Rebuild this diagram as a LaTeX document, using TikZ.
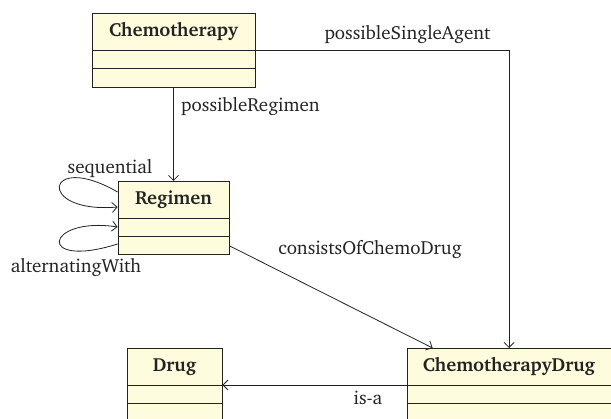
\documentclass[tikz,border=0pt]{standalone}
\usepackage[T1]{fontenc}
\usepackage{charter}
\usetikzlibrary{arrows.meta,calc}
\definecolor{classfill}{RGB}{255,251,221}
\definecolor{lineclr}{RGB}{34,34,34}
\tikzset{
  x=1pt, y=-1pt,
  every node/.style={font=\fontsize{19}{22}\selectfont, text=lineclr},
  classbox/.style={draw=lineclr, fill=classfill, line width=0.8pt, inner sep=0pt},
  classtitle/.style={font=\fontsize{19}{22}\selectfont\bfseries},
  divider/.style={draw=lineclr, line width=0.8pt},
  assoc/.style={draw=lineclr, line width=0.8pt, -{Straight Barb[length=5pt,width=10pt,line width=0.8pt]}},
  lbl/.style={inner sep=0pt}
}
\newcommand{\umlclass}[6]{%
  \node[classbox, minimum width=#4, minimum height=#5, anchor=north] (#1) at (#2,#3) {};
  \node[classtitle] (#1-title) at ($(#1.north)+(0,18.5)$) {#6};
  \draw[divider] ($(#1.north west)+(0,37)$) -- ($(#1.north east)+(0,37)$);
  \draw[divider] ($(#1.north west)+(0,55.5)$) -- ($(#1.north east)+(0,55.5)$);
}
\begin{document}
\begin{tikzpicture}
\clip (0,0) rectangle (611,419);
\umlclass{chemo}{173.5}{13}{163pt}{74pt}{Chemotherapy}
\umlclass{reg}{173.5}{181}{111pt}{73pt}{Regimen}
\umlclass{drug}{174.5}{348}{95pt}{80pt}{Drug}
\umlclass{cdrug}{509}{348}{204pt}{80pt}{ChemotherapyDrug}

% possibleRegimen
\draw[assoc] (chemo.south) -- (reg.north);
\node[lbl, anchor=base west] (l1) at (181,112) {possibleRegimen};

% possibleSingleAgent
\draw[assoc] (chemo.east) -| (cdrug.north);
\node[lbl, anchor=base] (l2) at (407.5,40) {possibleSingleAgent};

% consistsOfChemoDrug
\coordinate (c1) at ($(reg.south east)+(0,-9)$);
\coordinate (c2) at ($(cdrug.north west)+(26,0)$);
\draw[assoc] (c1) -- (c2);
\node[lbl, anchor=base] (l3) at (370,255) {consistsOfChemoDrug};

% is-a
\coordinate (i1) at ($(cdrug.north west)+(0,37)$);
\coordinate (i2) at ($(drug.north east)+(0,37)$);
\draw[assoc] (i1) -- (i2);
\node[lbl, anchor=base] (l4) at (368,405) {is-a};

% self loops
\coordinate (s1) at ($(reg.north west)+(0,11)$);
\coordinate (s2) at ($(reg.north west)+(0,26)$);
\draw[assoc] (s1) .. controls (45,150) and (35,214) .. (s2);
\node[lbl, anchor=base] (l5) at (110,174) {sequential};

\coordinate (a1) at ($(reg.north west)+(0,63)$);
\coordinate (a2) at ($(reg.north west)+(0,46)$);
\draw[assoc] (a1) .. controls (35,270) and (45,216) .. (a2);
\node[lbl, anchor=base] (l6) at (76,273) {alternatingWith};
\end{tikzpicture}
\end{document}
